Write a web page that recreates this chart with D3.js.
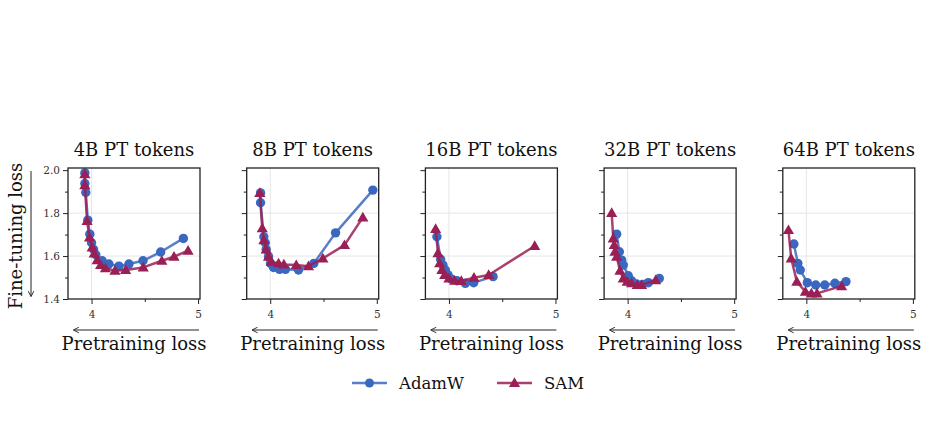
<!DOCTYPE html>
<meta charset="utf-8">
<style>
body { margin: 0; background: #fff; font-family: 'DejaVu Serif', serif; }
.spine { fill: none; stroke: #222; stroke-width: 1.3; }
.grid line { stroke: #e6e6e6; stroke-width: 1; }
.tick line { stroke: #222; }
.tick text { font-family: 'DejaVu Serif', serif; font-size: 10.5px; fill: #333; }
.domain { display: none; }
.line { fill: none; stroke-width: 2.5; stroke-opacity: 0.85; stroke-linejoin: round; }
</style>
<body>
<script src="https://cdnjs.cloudflare.com/ajax/libs/d3/7.8.5/d3.min.js"></script>
<script>
// token budgets (one panel each)
var titles = ["4B PT tokens", "8B PT tokens", "16B PT tokens", "32B PT tokens", "64B PT tokens"];

// [pretraining loss, fine-tuning loss]
var adamw4B = [[3.937,1.987],[3.937,1.938],[3.946,1.896],[3.965,1.767],[3.984,1.702],[4.0,1.662],[4.019,1.631],[4.04,1.606],[4.10,1.578],[4.163,1.563],[4.257,1.553],[4.351,1.563],[4.483,1.578],[4.649,1.619],[4.862,1.682]];
var sam4B = [[3.937,1.981],[3.937,1.93],[3.958,1.763],[3.981,1.687],[4.006,1.64],[4.025,1.612],[4.053,1.581],[4.085,1.558],[4.13,1.543],[4.22,1.532],[4.32,1.535],[4.485,1.547],[4.66,1.578],[4.774,1.597],[4.906,1.625]];

var adamw8B = [[3.909,1.894],[3.909,1.848],[3.94,1.69],[3.953,1.662],[3.962,1.631],[3.984,1.597],[4.003,1.566],[4.031,1.547],[4.087,1.538],[4.143,1.538],[4.265,1.535],[4.409,1.566],[4.613,1.708],[4.963,1.907]];
var sam8B = [[3.902,1.894],[3.925,1.729],[3.94,1.674],[3.962,1.631],[3.984,1.597],[4.009,1.573],[4.078,1.566],[4.128,1.561],[4.244,1.558],[4.359,1.553],[4.494,1.589],[4.697,1.651],[4.869,1.78]];

var adamw16B = [[3.887,1.69],[3.922,1.585],[3.944,1.558],[3.966,1.535],[3.991,1.512],[4.022,1.493],[4.075,1.485],[4.154,1.473],[4.232,1.476],[4.414,1.504]];
var sam16B = [[3.875,1.726],[3.897,1.613],[3.913,1.566],[3.934,1.535],[3.96,1.512],[4.0,1.496],[4.053,1.485],[4.116,1.484],[4.235,1.499],[4.373,1.512],[4.805,1.647]];

var adamw32B = [[3.897,1.702],[3.922,1.62],[3.944,1.581],[3.959,1.558],[4.006,1.508],[4.037,1.485],[4.084,1.47],[4.141,1.468],[4.194,1.476],[4.297,1.496]];
var sam32B = [[3.85,1.801],[3.865,1.682],[3.874,1.651],[3.881,1.62],[3.897,1.597],[3.928,1.532],[3.959,1.496],[3.996,1.481],[4.037,1.473],[4.09,1.465],[4.131,1.465],[4.263,1.488]];

var adamw64B = [[3.883,1.656],[3.92,1.566],[3.943,1.535],[4.009,1.476],[4.088,1.465],[4.173,1.465],[4.268,1.473],[4.372,1.481]];
var sam64B = [[3.832,1.721],[3.858,1.589],[3.911,1.481],[3.991,1.434],[4.047,1.426],[4.1,1.426],[4.331,1.46]];

var adamwRuns = [adamw4B, adamw8B, adamw16B, adamw32B, adamw64B];
var samRuns = [sam4B, sam8B, sam16B, sam32B, sam64B];

var xTicks = [4, 5], xMinor = [4.5];
var yTicks = [1.4, 1.6, 1.8, 2.0], yMinor = [1.5, 1.7, 1.9];

var blue = "#3a67bf", red = "#9a1f55";

var W = 929, H = 422;
var panelLeft = 68, panelStep = 178.7, panelW = 132;
var plotTop = 168, plotBottom = 299, plotH = plotBottom - plotTop;

var svg = d3.select("body").append("svg")
	.attr("width", W)
	.attr("height", H);

var x = d3.scaleLinear().domain([3.779, 5.018]).range([0, panelW]);
var y = d3.scaleLinear().domain([1.4, 2.01]).range([plotH, 0]);

var valueline = d3.line()
	.x(function(d) { return x(d[0]); })
	.y(function(d) { return y(d[1]); });

var marker = d3.symbol().type(d3.symbolTriangle).size(54);

svg.append("defs").append("marker")
	.attr("id", "head")
	.attr("viewBox", "0 0 10 10")
	.attr("refX", 8).attr("refY", 5)
	.attr("markerWidth", 7).attr("markerHeight", 7)
	.attr("orient", "auto-start-reverse")
	.append("path")
	.attr("d", "M1,1 L9,5 L1,9")
	.style("fill", "none").style("stroke", "#222").style("stroke-width", 1.3);

titles.forEach(function(title, i) {
	var g = svg.append("g")
		.attr("transform", "translate(" + (panelLeft + i * panelStep) + "," + plotTop + ")");

	// gridlines
	g.append("g").attr("class", "grid")
		.selectAll("line").data([4]).enter().append("line")
		.attr("x1", x).attr("x2", x).attr("y1", 0).attr("y2", plotH);
	g.append("g").attr("class", "grid")
		.selectAll("line").data([1.6, 1.8]).enter().append("line")
		.attr("y1", y).attr("y2", y).attr("x1", 0).attr("x2", panelW);

	// axes
	g.append("g")
		.attr("transform", "translate(0," + plotH + ")")
		.call(d3.axisBottom(x).tickValues(xTicks).tickSize(5).tickPadding(7).tickFormat(d3.format("d")));
	g.append("g")
		.attr("transform", "translate(0," + plotH + ")")
		.call(d3.axisBottom(x).tickValues(xMinor).tickSize(3).tickFormat(""));
	g.append("g")
		.call(d3.axisLeft(y).tickValues(yTicks).tickSize(5).tickPadding(3)
			.tickFormat(i === 0 ? d3.format(".1f") : ""));
	g.append("g")
		.call(d3.axisLeft(y).tickValues(yMinor).tickSize(3).tickFormat(""));

	// series
	var clip = "clip" + i;
	g.append("clipPath").attr("id", clip).append("rect")
		.attr("x", -6).attr("y", -6).attr("width", panelW + 12).attr("height", plotH + 12);
	var plot = g.append("g").attr("clip-path", "url(#" + clip + ")");

	plot.append("path").attr("class", "line").style("stroke", blue).attr("d", valueline(adamwRuns[i]));
	plot.selectAll(".adam").data(adamwRuns[i]).enter().append("circle")
		.attr("cx", function(d) { return x(d[0]); })
		.attr("cy", function(d) { return y(d[1]); })
		.attr("r", 4.7)
		.style("fill", blue);

	plot.append("path").attr("class", "line").style("stroke", red).attr("d", valueline(samRuns[i]));
	plot.selectAll(".sam").data(samRuns[i]).enter().append("path")
		.attr("d", marker)
		.attr("transform", function(d) { return "translate(" + x(d[0]) + "," + (y(d[1]) + 0.8) + ")"; })
		.style("fill", red);

	g.append("rect").attr("class", "spine")
		.attr("width", panelW).attr("height", plotH);

	// title
	g.append("text")
		.attr("x", panelW / 2).attr("y", -12)
		.attr("text-anchor", "middle")
		.style("font-size", "18px").style("fill", "#111")
		.text(title);

	// x arrow and label
	g.append("line")
		.attr("x1", panelW - 1).attr("y1", 162).attr("x2", 6).attr("y2", 162)
		.style("stroke", "#222").style("stroke-width", 1)
		.attr("marker-end", "url(#head)");
	g.append("text")
		.attr("x", panelW / 2).attr("y", 182)
		.attr("text-anchor", "middle")
		.style("font-size", "18px").style("fill", "#111")
		.text("Pretraining loss");
});

// y arrow and label
svg.append("line")
	.attr("x1", 31).attr("y1", 171).attr("x2", 31).attr("y2", 296)
	.style("stroke", "#222").style("stroke-width", 1)
	.attr("marker-end", "url(#head)");
svg.append("text")
	.attr("transform", "translate(22," + 236 + ") rotate(-90)")
	.attr("text-anchor", "middle")
	.style("font-size", "18px").style("fill", "#111")
	.text("Fine-tuning loss");

// legend
var legend = [["AdamW", blue, "circle", 352], ["SAM", red, "triangle", 497]];
legend.forEach(function(l) {
	var lg = svg.append("g").attr("transform", "translate(" + l[3] + ",383)");
	lg.append("line").attr("x1", 0).attr("x2", 35)
		.style("stroke", l[1]).style("stroke-width", 2.5).style("stroke-opacity", 0.85);
	if (l[2] === "circle") {
		lg.append("circle").attr("cx", 17.5).attr("r", 4.5).style("fill", l[1]);
	} else {
		lg.append("path").attr("d", marker).attr("transform", "translate(17.5,0.8)").style("fill", l[1]);
	}
	lg.append("text").attr("x", 47).attr("y", 5.5)
		.style("font-size", "16.5px").style("fill", "#111")
		.text(l[0]);
});
</script>
